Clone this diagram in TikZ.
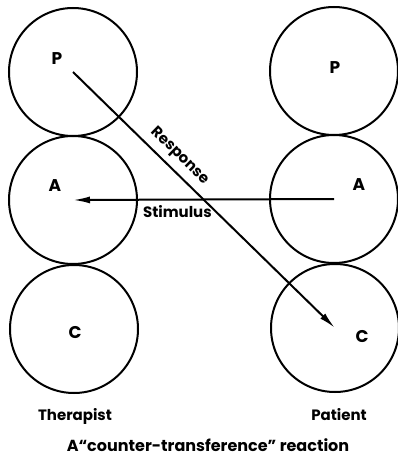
\documentclass[tikz,border=0pt]{standalone}
\usepackage{fontspec}
\setmainfont{Poppins}
\usetikzlibrary{arrows.meta}
\begin{document}
\begin{tikzpicture}[x=1pt,y=-1pt,line width=2pt,
    ego/.style={circle,draw,minimum size=128pt,inner sep=0pt},
    lbl/.style={font=\bfseries\fontsize{15}{15}\selectfont,inner sep=1pt},
    letter/.style={font=\bfseries\fontsize{17}{17}\selectfont,inner sep=1pt},
    >={Latex[length=17pt,width=7pt]}]
    \useasboundingbox (0,0) rectangle (398,463);
    %therapist
    \node (TP) at (73,72) [ego]{};
    \node (TA) at (73,200) [ego]{};
    \node (TC) at (74,329) [ego]{};
    %patient
    \node (PP) at (334,71) [ego]{};
    \node (PA) at (334,199) [ego]{};
    \node (PC) at (335,328) [ego]{};
    %ego state letters
    \node (tp) at (57,59) [letter]{P};
    \node (ta) at (55,186) [letter]{A};
    \node (tc) at (75,333) [letter]{C};
    \node (pp) at (335,68) [letter]{P};
    \node (pa) at (359,185) [letter]{A};
    \node (pc) at (362,337) [letter]{C};

    \draw [->] (TP.center) -- (PC.center) node[pos=0.37,sloped,above=5pt,lbl] {Response};
    \draw [->] (PA.center) -- (TA.center) node[pos=0.6,below=4pt,lbl] {Stimulus};

    \node (ther) at (75,416) [lbl]{Therapist};
    \node (pat) at (339,415) [lbl]{Patient};
    \node (title) at (208,445) [lbl,font=\bfseries\fontsize{16}{16}\selectfont]{A``counter-transference'' reaction};
\end{tikzpicture}
\end{document}
